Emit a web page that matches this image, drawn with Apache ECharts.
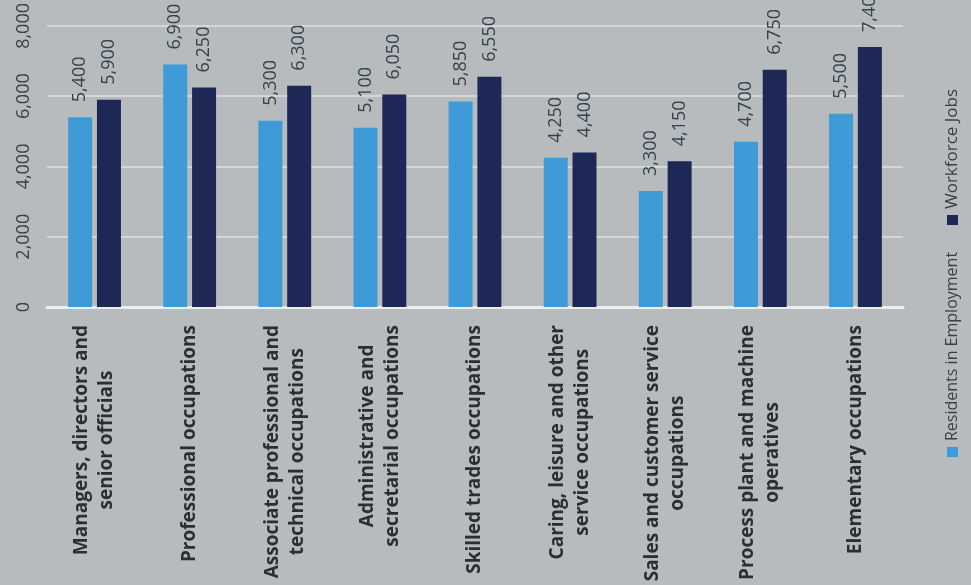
<!DOCTYPE html>
<html>
<head>
<meta charset="utf-8">
<style>
  html, body { margin: 0; padding: 0; background: #b8bbbd; }
  #chart { width: 971px; height: 585px; }
</style>
<script src="https://cdn.jsdelivr.net/npm/echarts@6/dist/echarts.min.js"></script>
</head>
<body>
<div id="chart"></div>
<script>
// Occupation groups (two-line names use \n)
const categories = [
  'Managers, directors and\nsenior officials',
  'Professional occupations',
  'Associate professional and\ntechnical occupations',
  'Administrative and\nsecretarial occupations',
  'Skilled trades occupations',
  'Caring, leisure and other\nservice occupations',
  'Sales and customer service\noccupations',
  'Process plant and machine\noperatives',
  'Elementary occupations'
];
const residentsInEmployment = [5400, 6900, 5300, 5100, 5850, 4250, 3300, 4700, 5500];
const workforceJobs = [5900, 6250, 6300, 6050, 6550, 4400, 4150, 6750, 7400];
const seriesNames = ['Residents in Employment', 'Workforce Jobs'];
const seriesColors = ['#3e9bd8', '#1e2857'];

const FONT = '"Open Sans", "Noto Sans", sans-serif';
const chart = echarts.init(document.getElementById('chart'));

const valueLabel = {
  show: true,
  position: 'top',
  rotate: 90,
  align: 'left',
  verticalAlign: 'middle',
  distance: 15,
  fontFamily: FONT,
  fontSize: 18,
  color: '#34424a',
  formatter: p => p.value.toLocaleString('en-GB')
};

chart.setOption({
  backgroundColor: '#b8bbbd',
  animation: false,
  grid: { left: 47, right: 68, top: 25, bottom: 278, containLabel: false },
  xAxis: {
    type: 'category',
    data: categories,
    axisLine: { show: true, lineStyle: { color: '#eceded', width: 3 } },
    axisTick: { show: false },
    axisLabel: {
      interval: 0,
      rotate: 90,
      margin: 18,
      fontFamily: FONT,
      fontSize: 19,
      fontWeight: 'bold',
      color: '#2a2f34',
      lineHeight: 25,
      formatter: v => v.split('\n').map(s => '{c|' + s + '}').join('\n'),
      rich: {
        c: {
          align: 'center',
          fontFamily: FONT,
          fontSize: 19,
          fontWeight: 'bold',
          color: '#2a2f34',
          lineHeight: 25
        }
      }
    }
  },
  yAxis: {
    type: 'value',
    min: 0,
    max: 8000,
    interval: 2000,
    axisLine: { show: false },
    axisTick: { show: false },
    splitLine: { lineStyle: { color: '#d4d6d7', width: 2 } },
    axisLabel: {
      rotate: 90,
      margin: 14,
      fontFamily: FONT,
      fontSize: 18,
      color: '#3a3f44',
      formatter: v => v.toLocaleString('en-GB')
    }
  },
  series: [
    {
      name: seriesNames[0],
      type: 'bar',
      data: residentsInEmployment,
      barWidth: 24,
      barGap: '20%',
      itemStyle: { color: seriesColors[0] },
      label: valueLabel
    },
    {
      name: seriesNames[1],
      type: 'bar',
      data: workforceJobs,
      barWidth: 24,
      barGap: '20%',
      itemStyle: { color: seriesColors[1] },
      label: valueLabel
    }
  ],
  graphic: [
    // legend keys, drawn reading bottom-to-top along the right edge
    { type: 'rect', left: 947, top: 447, shape: { width: 11, height: 10 }, style: { fill: seriesColors[0] } },
    {
      type: 'text', x: 952, y: 441, rotation: Math.PI / 2,
      style: { text: seriesNames[0], font: '16px ' + FONT, fill: '#3a3f44', align: 'left', verticalAlign: 'middle' }
    },
    { type: 'rect', left: 947, top: 215, shape: { width: 11, height: 10 }, style: { fill: seriesColors[1] } },
    {
      type: 'text', x: 952, y: 209, rotation: Math.PI / 2,
      style: { text: seriesNames[1], font: '17px ' + FONT, fill: '#3a3f44', align: 'left', verticalAlign: 'middle' }
    }
  ]
});
</script>
</body>
</html>
